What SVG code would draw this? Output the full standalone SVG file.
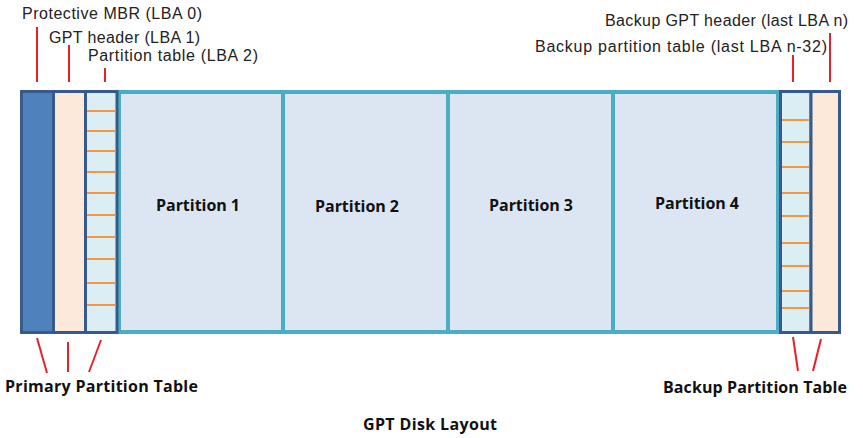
<svg xmlns="http://www.w3.org/2000/svg" width="863" height="438" viewBox="0 0 863 438">
<style>
.lbl{font-family:"Liberation Sans","Open Sans",sans-serif;font-size:16px;fill:#222}
.bold{font-family:"Open Sans","Noto Sans","Liberation Sans",sans-serif;font-size:16px;font-weight:bold;fill:#111}
.cell{stroke:#375A8C;stroke-width:3}
.part{fill:#DCE6F2;stroke:#4BACC6;stroke-width:4}
.ol{stroke:#F79646;stroke-width:2}
.red{stroke:#E8202A;stroke-width:2;fill:none}
</style>
<rect width="863" height="438" fill="#fff"/>
<g id="partition1"><rect class="part" x="119" y="92" width="164" height="240"/><text class="bold" x="198" y="211" text-anchor="middle" textLength="84">Partition 1</text></g>
<g id="partition2"><rect class="part" x="283" y="92" width="165" height="240"/><text class="bold" x="357" y="212" text-anchor="middle" textLength="84">Partition 2</text></g>
<g id="partition3"><rect class="part" x="448" y="92" width="165" height="240"/><text class="bold" x="531" y="211" text-anchor="middle" textLength="84">Partition 3</text></g>
<g id="partition4"><rect class="part" x="613" y="92" width="165" height="240"/><text class="bold" x="697" y="209" text-anchor="middle" textLength="84">Partition 4</text></g>
<g id="mbr"><rect class="cell" x="21.5" y="91.5" width="32" height="241" fill="#4F81BD"/></g>
<g id="gpt-header"><rect class="cell" x="53.5" y="91.5" width="32" height="241" fill="#FDE9D9"/></g>
<g id="partition-table"><rect class="cell" x="85.5" y="91.5" width="31.5" height="241" fill="#DAEEF3"/>
<g class="ol"><line x1="87" x2="115.5" y1="111" y2="111"/><line x1="87" x2="115.5" y1="131" y2="131"/><line x1="87" x2="115.5" y1="151" y2="151"/><line x1="87" x2="115.5" y1="172" y2="172"/><line x1="87" x2="115.5" y1="193" y2="193"/><line x1="87" x2="115.5" y1="215" y2="215"/><line x1="87" x2="115.5" y1="237" y2="237"/><line x1="87" x2="115.5" y1="259" y2="259"/><line x1="87" x2="115.5" y1="283" y2="283"/><line x1="87" x2="115.5" y1="305" y2="305"/></g></g>
<g id="backup-partition-table"><rect class="cell" x="780.5" y="91.5" width="30.5" height="241" fill="#DAEEF3"/>
<g class="ol"><line x1="782" x2="809.5" y1="120" y2="120"/><line x1="782" x2="809.5" y1="142" y2="142"/><line x1="782" x2="809.5" y1="167" y2="167"/><line x1="782" x2="809.5" y1="193" y2="193"/><line x1="782" x2="809.5" y1="216" y2="216"/><line x1="782" x2="809.5" y1="243" y2="243"/><line x1="782" x2="809.5" y1="266" y2="266"/><line x1="782" x2="809.5" y1="291" y2="291"/><line x1="782" x2="809.5" y1="308" y2="308"/></g></g>
<g id="backup-gpt-header"><rect class="cell" x="811" y="91.5" width="28.5" height="241" fill="#FDE9D9"/></g>
<g id="connectors">
<line class="red" x1="37" y1="27" x2="37" y2="82"/>
<line class="red" x1="69" y1="45" x2="69" y2="82"/>
<line class="red" x1="105" y1="68" x2="105" y2="82"/>
<line class="red" x1="793" y1="55" x2="793" y2="82"/>
<line class="red" x1="830" y1="33" x2="830" y2="82"/>
<line class="red" x1="37" y1="338" x2="47" y2="373"/>
<line class="red" x1="68" y1="342" x2="68" y2="372"/>
<line class="red" x1="101" y1="340" x2="89" y2="372"/>
<line class="red" x1="793" y1="337" x2="798" y2="371"/>
<line class="red" x1="821" y1="339" x2="813" y2="371"/>
</g>
<g id="labels">
<text class="lbl" x="22" y="19" textLength="180">Protective MBR (LBA 0)</text>
<text class="lbl" x="49" y="42.5" textLength="151">GPT header (LBA 1)</text>
<text class="lbl" x="88" y="61" textLength="170">Partition table (LBA 2)</text>
<text class="lbl" x="848" y="26" text-anchor="end" textLength="243">Backup GPT header (last LBA n)</text>
<text class="lbl" x="827" y="52" text-anchor="end" textLength="292">Backup partition table (last LBA n-32)</text>
<text class="bold" x="5" y="392" textLength="193">Primary Partition Table</text>
<text class="bold" x="663" y="393" textLength="184">Backup Partition Table</text>
<text class="bold" x="430" y="430" text-anchor="middle" textLength="134">GPT Disk Layout</text>
</g>
</svg>
